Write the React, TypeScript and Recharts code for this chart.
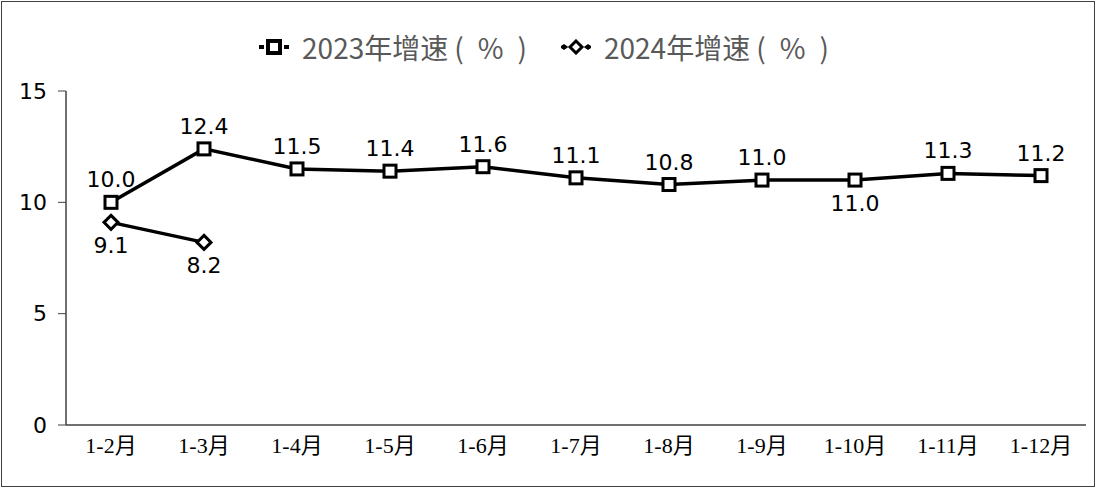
import React from 'react';
import { LineChart, Line, XAxis, YAxis } from 'recharts';

const categories = ['1-2月', '1-3月', '1-4月', '1-5月', '1-6月', '1-7月', '1-8月', '1-9月', '1-10月', '1-11月', '1-12月'];
const growth2023 = [10.0, 12.4, 11.5, 11.4, 11.6, 11.1, 10.8, 11.0, 11.0, 11.3, 11.2];
const growth2024: (number | null)[] = [9.1, 8.2, null, null, null, null, null, null, null, null, null];
const yTicks = [0, 5, 10, 15];
const seriesYears = ['2023', '2024'];
const seriesSuffix = '年增速';
const below2023 = [8];

const data = categories.map((c, i) => ({ name: c, a: growth2023[i], b: growth2024[i] }));

const SquareDot = (props: any) => {
  const { cx, cy, index } = props;
  if (cx == null || cy == null || props.value == null) return <g key={index} />;
  return <rect key={index} x={cx - 6} y={cy - 6} width={12} height={12} fill="#fff" stroke="#000" strokeWidth={3} />;
};

const DiamondDot = (props: any) => {
  const { cx, cy, index } = props;
  if (cx == null || cy == null || props.value == null) return <g key={index} />;
  return (
    <path key={index} d={`M${cx},${cy - 7} L${cx + 7},${cy} L${cx},${cy + 7} L${cx - 7},${cy} Z`} fill="#fff" stroke="#000" strokeWidth={3} />
  );
};

const makeLabel = (belowIdx: number[], defaultBelow: boolean) => (props: any) => {
  const { x, y, value, index } = props;
  if (value == null) return null;
  const below = defaultBelow ? true : belowIdx.includes(index);
  return (
    <text key={index} x={x} y={below ? y + 31 : y - 15} textAnchor="middle" fontSize={22} fontFamily="DejaVu Sans" fill="#000">
      {Number(value).toFixed(1)}
    </text>
  );
};

const LegendIcon = ({ kind }: { kind: 'square' | 'diamond' }) => (
  <svg width={30} height={16} style={{ display: 'block' }}>
    {kind === 'square' ? (
      <g>
        <line x1={0} y1={8} x2={5} y2={8} stroke="#000" strokeWidth={4} />
        <line x1={25} y1={8} x2={30} y2={8} stroke="#000" strokeWidth={4} />
        <rect x={9} y={2} width={12} height={12} fill="#fff" stroke="#000" strokeWidth={4} />
      </g>
    ) : (
      <g>
        <path d="M0,8 L3,6 L6,8 L3,10 Z" fill="#000" stroke="#000" strokeWidth={1.5} />
        <path d="M24,8 L27,6 L30,8 L27,10 Z" fill="#000" stroke="#000" strokeWidth={1.5} />
        <path d="M15,2 L21,8 L15,14 L9,8 Z" fill="#fff" stroke="#000" strokeWidth={3} />
      </g>
    )}
  </svg>
);

const LegendText = ({ year }: { year: string }) => (
  <span style={{ marginLeft: 13, whiteSpace: 'pre' }}>
    {year}
    {seriesSuffix}
    <span style={{ marginLeft: 6 }}>(</span>
    <span style={{ marginLeft: 14 }}>%</span>
    <span style={{ marginLeft: 14 }}>)</span>
  </span>
);

export default function App() {
  return (
    <div style={{ position: 'fixed', left: 0, top: 0, width: 1096, height: 488, background: '#fff' }}>
      <div style={{ position: 'absolute', left: 1, top: 1, width: 1094, height: 486, border: '1.5px solid #404040', boxSizing: 'border-box' }} />
      <div
        style={{
          position: 'absolute',
          left: -4,
          top: 28,
          width: 1096,
          display: 'flex',
          justifyContent: 'center',
          alignItems: 'center',
          fontFamily: '"Noto Sans CJK SC", "Noto Sans", sans-serif',
          fontSize: 28,
          color: '#595959',
          lineHeight: '38px',
        }}
      >
        <div style={{ display: 'flex', alignItems: 'center', marginRight: 34 }}>
          <LegendIcon kind="square" />
          <LegendText year={seriesYears[0]} />
        </div>
        <div style={{ display: 'flex', alignItems: 'center' }}>
          <LegendIcon kind="diamond" />
          <LegendText year={seriesYears[1]} />
        </div>
      </div>
      <LineChart width={1096} height={488} data={data} margin={{ top: 91, right: 10, bottom: 23, left: 0 }}>
        <XAxis
          dataKey="name"
          padding={{ left: 45, right: 45 }}
          axisLine={{ stroke: '#404040', strokeWidth: 1.5 }}
          tickLine={false}
          height={40}
          tickMargin={6}
          interval={0}
          tick={{ fill: '#000', fontSize: 22, fontFamily: '"Liberation Serif", "Noto Sans CJK SC", serif' }}
        />
        <YAxis
          domain={[0, 15]}
          ticks={yTicks}
          width={66}
          axisLine={{ stroke: '#404040', strokeWidth: 1.5 }}
          tickLine={{ stroke: '#404040', strokeWidth: 1 }}
          tickSize={8}
          tickMargin={11}
          tick={{ fill: '#000', fontSize: 22, fontFamily: 'DejaVu Sans' }}
        />
        <Line
          dataKey="a"
          stroke="#000"
          strokeWidth={3.5}
          dot={<SquareDot />}
          activeDot={false}
          isAnimationActive={false}
          label={makeLabel(below2023, false)}
        />
        <Line
          dataKey="b"
          stroke="#000"
          strokeWidth={3.5}
          dot={<DiamondDot />}
          activeDot={false}
          isAnimationActive={false}
          connectNulls={false}
          label={makeLabel([], true)}
        />
      </LineChart>
    </div>
  );
}
